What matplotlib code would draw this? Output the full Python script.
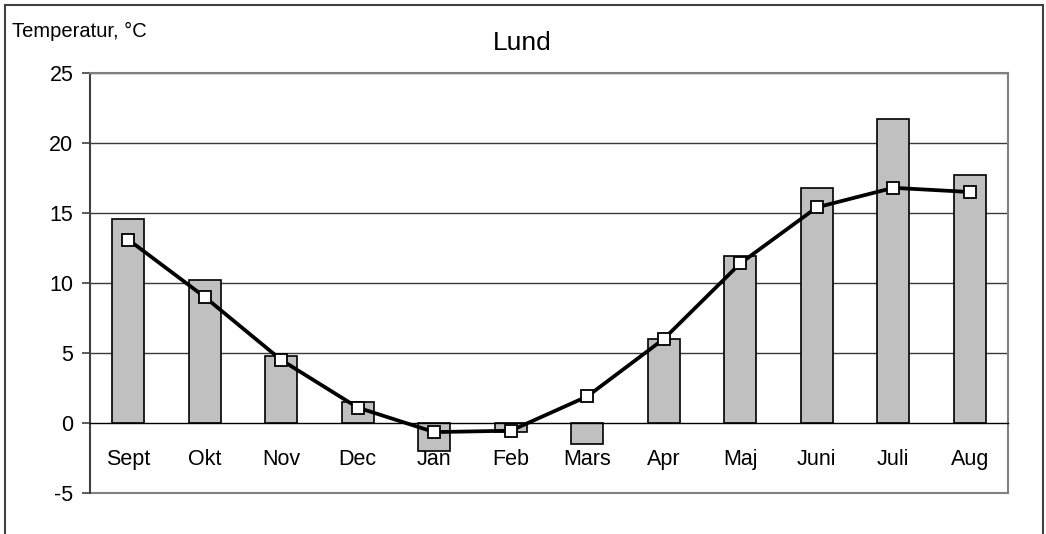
import matplotlib.pyplot as plt
from matplotlib.patches import Rectangle

plt.rcParams['font.family'] = ['Liberation Sans', 'DejaVu Sans']

months = ['Sept', 'Okt', 'Nov', 'Dec', 'Jan', 'Feb', 'Mars', 'Apr', 'Maj', 'Juni', 'Juli', 'Aug']
temp_bars = [14.6, 10.25, 4.8, 1.5, -2.0, -0.65, -1.5, 6.0, 11.9, 16.8, 21.7, 17.7]
temp_line = [13.1, 9.0, 4.5, 1.1, -0.65, -0.55, 1.9, 6.0, 11.4, 15.4, 16.8, 16.5]
yticks = [-5, 0, 5, 10, 15, 20, 25]

fig = plt.figure(figsize=(10.46, 5.34), dpi=100)
ax = fig.add_axes([90/1046, 1 - 493/534, 918/1046, 420/534])

x = range(len(months))
ax.bar(x, temp_bars, width=0.42, color='#c0c0c0', edgecolor='black', linewidth=1.2, zorder=2)
ax.plot(x, temp_line, color='black', linewidth=2.7, marker='s', markersize=9,
        markerfacecolor='white', markeredgecolor='black', markeredgewidth=1.3, zorder=3)

ax.set_xlim(-0.5, len(months) - 0.5)
ax.set_ylim(-5, 25)
ax.set_yticks(yticks)
ax.set_yticklabels([str(v) for v in yticks])
for v in yticks:
    if v != 0:
        ax.axhline(v, color='#3a3a3a', linewidth=1.0, zorder=1)

ax.set_xticks(list(x))
ax.set_xticklabels(months)
ax.spines['bottom'].set_position(('data', 0))
ax.spines['bottom'].set_color('black')
ax.spines['bottom'].set_linewidth(1.0)
ax.spines['bottom'].set_zorder(2.5)
ax.tick_params(axis='x', length=0, pad=19, labelsize=15.5)
ax.tick_params(axis='y', length=6, width=1.2, color='#404040', pad=6, labelsize=15.5)

ax.spines['left'].set_color('#404040')
ax.spines['left'].set_linewidth(1.5)
for s in ['top', 'right']:
    ax.spines[s].set_color('#808080')
    ax.spines[s].set_linewidth(1.5)
# bottom frame of the plot area at -5
ax.axhline(-5, color='#808080', linewidth=1.5, zorder=1, clip_on=False)

fig.text(522/1046, 1 - 43/534, 'Lund', ha='center', va='center', fontsize=19)
fig.text(12/1046, 1 - 31/534, 'Temperatur, °C', ha='left', va='center', fontsize=14.5)

# outer chart frame
fig.patches.append(Rectangle((5/1046, -0.1), 1038/1046, 1.1 - 5/534, transform=fig.transFigure,
                             fill=False, edgecolor='#404040', linewidth=1.5, clip_on=False))

fig.savefig('out.png', dpi=100)
